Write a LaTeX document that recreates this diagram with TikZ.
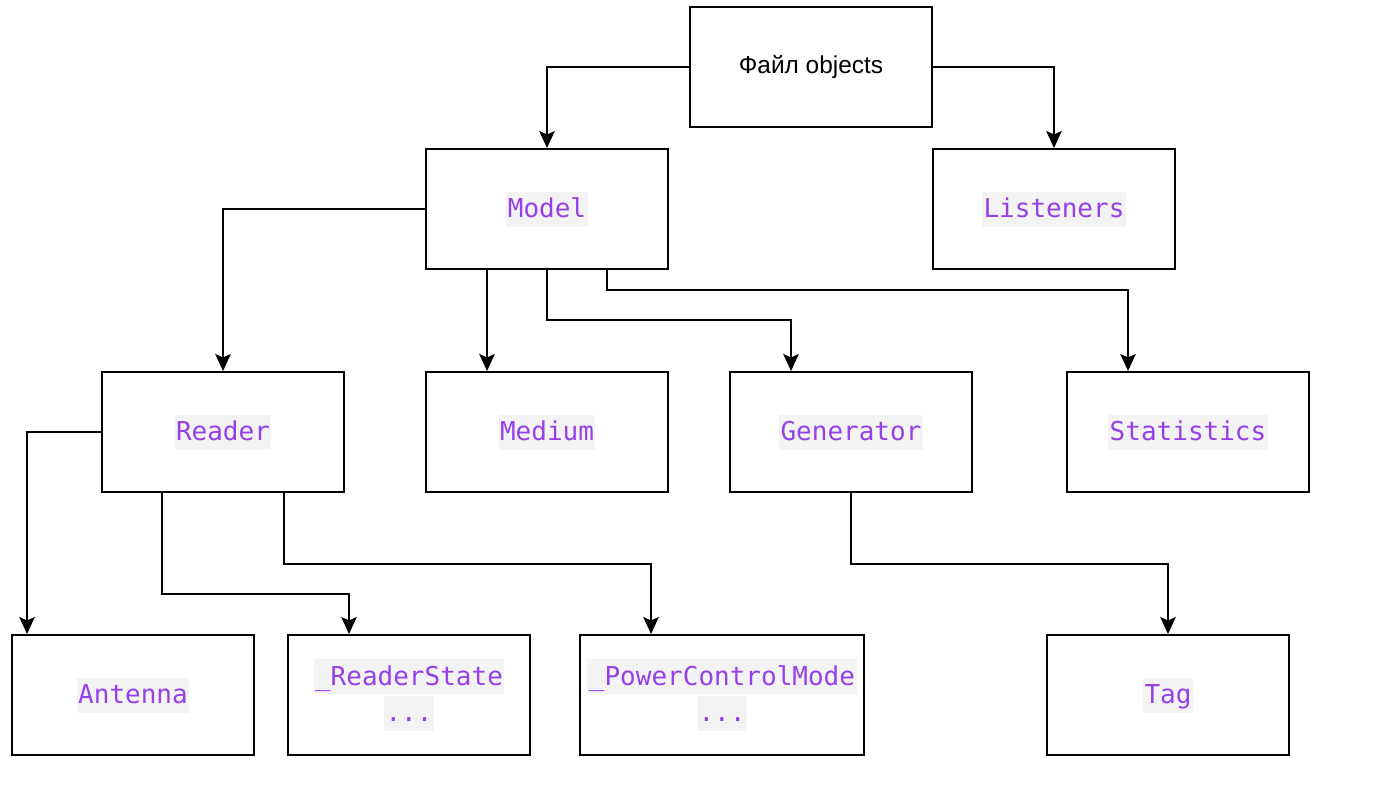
\documentclass[tikz,border=0pt]{standalone}
\usepackage{fontspec}
\setmainfont{Liberation Sans}
\newfontfamily\codefont{DejaVu Sans Mono}
\usetikzlibrary{arrows.meta}
\definecolor{codefg}{RGB}{150,64,232}
\definecolor{codebg}{RGB}{243,243,243}
\newcommand\hlcode[1]{{\setlength{\fboxsep}{0pt}\colorbox{codebg}{\rule[-0.18cm]{0pt}{0.7cm}\hspace{0.03cm}\textcolor{codefg}{#1}\hspace{0.03cm}}}}
\tikzset{
  box/.style={draw, line width=0.04cm, minimum width=4.84cm, minimum height=2.4cm, inner sep=0pt, align=center,
    font=\codefont\fontsize{14.8pt}{19.9pt}\selectfont},
  arr/.style={line width=0.04cm, -{Stealth[length=0.34cm, width=0.31cm, inset=0.07cm]}}
}
\begin{document}
\begin{tikzpicture}[x=0.02cm, y=-0.02cm]
\useasboundingbox[fill=white] (0,0) rectangle (1396,785);
\node[box, font=\fontsize{13.9pt}{16pt}\selectfont] (file) at (811,67) {Файл objects};
\node[box] (model) at (547,209) {\hlcode{Model}};
\node[box] (listeners) at (1054,209) {\hlcode{Listeners}};
\node[box] (reader) at (223,432) {\hlcode{Reader}};
\node[box] (medium) at (547,432) {\hlcode{Medium}};
\node[box] (generator) at (851,432) {\hlcode{Generator}};
\node[box] (statistics) at (1188,432) {\hlcode{Statistics}};
\node[box] (antenna) at (133,695) {\hlcode{Antenna}};
\node[box] (rstate) at (409,695) {\hlcode{\_ReaderState}\\\hlcode{...}};
\node[box, minimum width=5.68cm] (pcm) at (722,695) {\hlcode{\_PowerControlMode}\\\hlcode{...}};
\node[box] (tag) at (1168,695) {\hlcode{Tag}};

\draw[arr] (file.west) -| (model.north);
\draw[arr] (file.east) -| (listeners.north);
\draw[arr] (model.west) -| (reader.north);
\draw[arr] ([xshift=-1.2cm]model.south) -- ([xshift=-1.2cm]medium.north);
\draw[arr] (model.south) -- ++(0,-1.0cm) -| ([xshift=-1.2cm]generator.north);
\draw[arr] ([xshift=1.2cm]model.south) -- ++(0,-0.4cm) -| ([xshift=-1.2cm]statistics.north);
\draw[arr] (reader.west) -| ([xshift=-2.12cm]antenna.north);
\draw[arr] ([xshift=-1.22cm]reader.south) -- ++(0,-2.02cm) -| ([xshift=-1.2cm]rstate.north);
\draw[arr] ([xshift=1.22cm]reader.south) -- ++(0,-1.42cm) -| ([xshift=-1.42cm]pcm.north);
\draw[arr] (generator.south) -- ++(0,-1.42cm) -| (tag.north);
\end{tikzpicture}
\end{document}
